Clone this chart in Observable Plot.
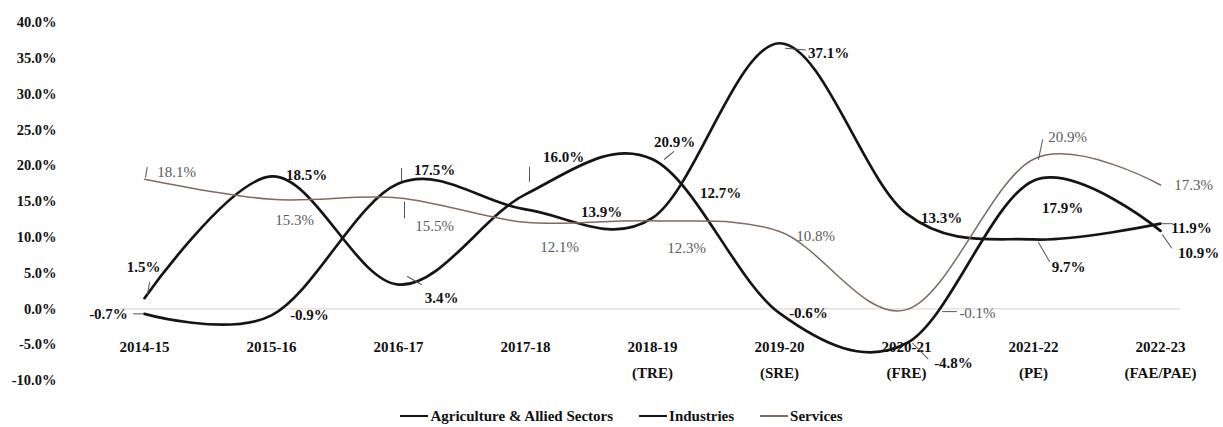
<!DOCTYPE html>
<html>
<head>
<meta charset="utf-8">
<script src="https://cdn.jsdelivr.net/npm/d3@7"></script>
<script src="https://cdn.jsdelivr.net/npm/@observablehq/plot@0.6"></script>
<style>
  body { margin: 0; background: #fff; }
  #chart { width: 1223px; }
  .legend {
    display: flex; justify-content: center; align-items: center;
    gap: 26px; padding-left: 20px; margin-top: 8px; height: 20px;
    font: bold 15px "Liberation Serif", "Times New Roman", serif; color: #111;
  }
  .legend span { display: inline-flex; align-items: center; }
  .legend i { display: inline-block; width: 28px; margin-right: 2px; }
</style>
</head>
<body>
<div id="chart"></div>
<script>
// Sector-wise growth rates, per financial year
const years = ["2014-15", "2015-16", "2016-17", "2017-18", "2018-19", "2019-20", "2020-21", "2021-22", "2022-23"];
const yearNotes = ["", "", "", "", "(TRE)", "(SRE)", "(FRE)", "(PE)", "(FAE/PAE)"];

const agriculture = [-0.7, -0.9, 17.5, 13.9, 12.7, 37.1, 13.3, 9.7, 11.9];
const industries  = [1.5, 18.5, 3.4, 16.0, 20.9, -0.6, -4.8, 17.9, 10.9];
const services    = [18.1, 15.3, 15.5, 12.1, 12.3, 10.8, -0.1, 20.9, 17.3];

const sectorNames = ["Agriculture & Allied Sectors", "Industries", "Services"];
const yTicks = [-10, -5, 0, 5, 10, 15, 20, 25, 30, 35, 40];

// Label placement (pixel offsets from each point) and leader lines
const agriLabelOffsets = [[-36, 0], [38, 0], [36, -13], [76, 3], [68, -25], [49, 10], [35, 5], [35, 28], [31, 4]];
const indLabelOffsets  = [[-1, -31], [35, -1], [43, 14], [38, -37], [22, -17], [29, 0], [47, 20], [29, 27], [38, 22]];
const servLabelOffsets = [[32, -7], [23, 21], [36, 28], [34, 25], [34, 27], [36, 5], [71, 4], [34, -22], [33, 0]];

// [pointIndex, dx, dy, length, rotate]
const agriLeaders = [[0, -2, 0, 9, 270], [2, 3, -3, 12, 0], [5, 6, 5, 20, 95], [7, 5, 3, 22, 150], [8, 2, 0, 10, 90]];
const indLeaders  = [[0, 3, -4, 12, 10], [2, 9, -8, 16, 120], [3, 4, -13, 14, 0], [4, 12, 0, 12, 50], [6, 6, 0, 22, 135], [8, 2, 4, 16, 145]];
const servLeaders = [[0, 1, -2, 10, 10], [2, 6, 4, 16, 180], [6, 36, 2, 14, 90], [7, 5, 0, 20, 12]];

const series = [
  {name: sectorNames[0], values: agriculture, offsets: agriLabelOffsets, leaders: agriLeaders,
   stroke: "#151515", width: 2.7, labelFill: "#111", labelWeight: "bold"},
  {name: sectorNames[1], values: industries, offsets: indLabelOffsets, leaders: indLeaders,
   stroke: "#151515", width: 2.7, labelFill: "#111", labelWeight: "bold"},
  {name: sectorNames[2], values: services, offsets: servLabelOffsets, leaders: servLeaders,
   stroke: "#7d6b62", width: 1.5, labelFill: "#5c5c5c", labelWeight: "normal"}
];

const fmt = v => v.toFixed(1) + "%";
const leaderShape = {
  draw(context, l) { context.moveTo(0, 0); context.lineTo(0, -l); }
};

const marks = [
  Plot.ruleY([0], {stroke: "#e6d6d6", strokeWidth: 1.2, insetLeft: -20, insetRight: -17}),
  Plot.axisY({ticks: yTicks, tickFormat: d => d.toFixed(1) + "%", tickSize: 0, tickPadding: 84, label: null}),
  Plot.text(years.map((y, i) => ({year: y, note: yearNotes[i]})), {
    x: "year", y: () => 0,
    text: d => d.note ? d.year + "\n" + d.note : d.year,
    lineAnchor: "top", dy: 25, lineHeight: 1.73, fontSize: 15, fill: "#111"
  })
];

for (const s of series) {
  const rows = s.values.map((v, i) => ({year: years[i], value: v}));
  marks.push(Plot.line(rows, {x: "year", y: "value", curve: "cardinal", stroke: s.stroke, strokeWidth: s.width}));
  for (const [i, dx, dy, len, rot] of s.leaders) {
    marks.push(Plot.vector([rows[i]], {
      x: "year", y: "value", dx, dy, length: len, rotate: rot, anchor: "start",
      shape: leaderShape, stroke: "#555", strokeWidth: 1
    }));
  }
  rows.forEach((r, i) => {
    marks.push(Plot.text([r], {
      x: "year", y: "value", text: d => fmt(d.value),
      dx: s.offsets[i][0], dy: s.offsets[i][1],
      fontSize: 15, fontWeight: s.labelWeight, fill: s.labelFill
    }));
  });
}

const chart = Plot.plot({
  width: 1223,
  height: 398,
  marginTop: 22,
  marginBottom: 18,
  marginLeft: 140,
  marginRight: 60,
  style: {fontFamily: "'Liberation Serif', 'Times New Roman', serif", fontSize: "14.5px", fontWeight: "bold", color: "#111", background: "#fff"},
  x: {type: "point", domain: years, padding: 0, axis: null},
  y: {domain: [-10, 40], axis: null},
  marks
});
document.getElementById("chart").append(chart);

// Legend below the chart
const legend = document.createElement("div");
legend.className = "legend";
series.forEach(s => {
  const item = document.createElement("span");
  const sw = document.createElement("i");
  sw.style.borderTop = `${Math.max(s.width, 2)}px solid ${s.stroke}`;
  item.append(sw, document.createTextNode(s.name));
  legend.append(item);
});
document.getElementById("chart").append(legend);
</script>
</body>
</html>
